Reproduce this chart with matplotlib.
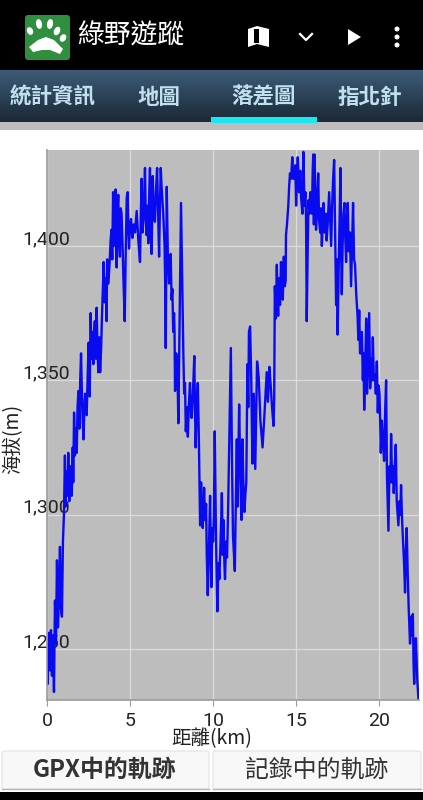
import numpy as np
from matplotlib import pyplot as plt
from matplotlib.colors import LinearSegmentedColormap
from matplotlib.patches import Circle, Ellipse, FancyBboxPatch, Polygon, Rectangle
from matplotlib.transforms import ScaledTranslation

CJK = ['Noto Sans CJK TC', 'DejaVu Sans']
LATIN = 'Roboto'

# distance along the track (km) and elevation (m)
distance = [
    0, .04, .08, .12, .18, .24, .30, .36, .42, .48, .54, .60, .66, .72, .78, .84, .90, .96, 1.02, 1.08,
    1.12, 1.18, 1.24, 1.28, 1.34, 1.40, 1.49, 1.55, 1.58, 1.63, 1.68, 1.74, 1.79, 1.84, 1.89, 1.95, 2.00, 2.05, 2.12, 2.20,
    2.26, 2.30, 2.39, 2.45, 2.51, 2.57, 2.63, 2.68, 2.72, 2.79, 2.84, 2.88, 2.94, 2.99, 3.04, 3.09, 3.15, 3.20, 3.26, 3.31,
    3.37, 3.41, 3.47, 3.53, 3.59, 3.62, 3.70, 3.78, 3.83, 3.88, 3.93, 3.98, 4.02, 4.06, 4.13, 4.16, 4.19, 4.24, 4.29, 4.34,
    4.39, 4.44, 4.49, 4.55, 4.60, 4.68, 4.74, 4.80, 4.86, 4.90, 4.94, 5.00, 5.06, 5.14, 5.22, 5.30, 5.40, 5.50, 5.60, 5.65,
    5.70, 5.75, 5.80, 5.85, 5.90, 5.95, 6.00, 6.05, 6.10, 6.15, 6.20, 6.25, 6.30, 6.37, 6.43, 6.50, 6.56, 6.63, 6.69, 6.75,
    6.80, 6.85, 6.90, 7.00, 7.08, 7.12, 7.15, 7.21, 7.28, 7.35, 7.40, 7.45, 7.50, 7.55, 7.60, 7.65, 7.68, 7.71, 7.78, 7.85,
    7.91, 8.07, 8.21, 8.26, 8.31, 8.36, 8.42, 8.48, 8.55, 8.61, 8.66, 8.71, 8.78, 8.87, 8.91, 8.95, 9.02, 9.08, 9.14, 9.22,
    9.28, 9.33, 9.38, 9.46, 9.52, 9.58, 9.62, 9.68, 9.76, 9.82, 9.86, 9.90, 9.96, 10.00, 10.05, 10.10, 10.18, 10.26, 10.32, 10.38,
    10.44, 10.50, 10.53, 10.58, 10.63, 10.68, 10.72, 10.78, 10.84, 10.90, 10.98, 11.07, 11.14, 11.20, 11.26, 11.31, 11.37, 11.43, 11.47, 11.52,
    11.57, 11.64, 11.71, 11.74, 11.77, 11.83, 11.89, 11.95, 12.00, 12.07, 12.12, 12.16, 12.23, 12.30, 12.37, 12.45, 12.54, 12.60, 12.65, 12.75,
    12.85, 12.98, 13.10, 13.23, 13.30, 13.39, 13.47, 13.55, 13.64, 13.68, 13.72, 13.78, 13.84, 13.88, 13.92, 13.98, 14.03, 14.09, 14.14, 14.20,
    14.26, 14.32, 14.37, 14.39, 14.45, 14.53, 14.58, 14.63, 14.70, 14.77, 14.83, 14.90, 14.95, 15.00, 15.05, 15.10, 15.18, 15.25, 15.30, 15.38,
    15.44, 15.50, 15.56, 15.60, 15.64, 15.70, 15.75, 15.80, 15.85, 15.90, 15.95, 16.00, 16.03, 16.07, 16.11, 16.16, 16.20, 16.27, 16.33, 16.38,
    16.45, 16.50, 16.55, 16.60, 16.65, 16.72, 16.78, 16.84, 16.90, 16.95, 16.99, 17.05, 17.11, 17.17, 17.23, 17.29, 17.35, 17.41, 17.46, 17.50,
    17.56, 17.62, 17.67, 17.72, 17.75, 17.80, 17.85, 17.91, 17.96, 18.01, 18.06, 18.11, 18.17, 18.24, 18.31, 18.37, 18.43, 18.49, 18.55, 18.62,
    18.70, 18.75, 18.80, 18.85, 18.90, 18.96, 19.02, 19.06, 19.10, 19.16, 19.22, 19.28, 19.34, 19.40, 19.46, 19.52, 19.57, 19.62, 19.68, 19.75,
    19.80, 19.86, 19.92, 19.97, 20.02, 20.06, 20.10, 20.16, 20.22, 20.30, 20.36, 20.42, 20.47, 20.56, 20.62, 20.68, 20.72, 20.78, 20.84, 20.88,
    20.94, 21.00, 21.06, 21.16, 21.22, 21.27, 21.32, 21.38, 21.44, 21.50, 21.56, 21.60, 21.66, 21.72, 21.78, 21.86, 21.92, 21.97, 22.03, 22.07,
    22.11, 22.16, 22.21, 22.26, 22.30, 22.37,
]
elevation = [
    1250, 1237, 1252, 1256, 1242, 1257, 1240, 1255, 1234, 1268, 1252, 1283, 1258, 1270, 1288, 1265, 1262, 1290, 1300, 1322,
    1303, 1316, 1307, 1323, 1305, 1318, 1307, 1325, 1312, 1338, 1322, 1332, 1323, 1340, 1346, 1332, 1350, 1360, 1340, 1328,
    1342, 1345, 1337, 1352, 1364, 1344, 1375, 1358, 1368, 1356, 1368, 1372, 1358, 1377, 1362, 1353, 1366, 1353, 1362, 1374,
    1385, 1394, 1379, 1388, 1372, 1395, 1386, 1395, 1402, 1406, 1395, 1420, 1400, 1416, 1421, 1398, 1392, 1412, 1419, 1402,
    1396, 1414, 1412, 1400, 1388, 1372, 1398, 1418, 1420, 1405, 1399, 1408, 1410, 1403, 1408, 1405, 1413, 1402, 1394, 1412,
    1425, 1405, 1409, 1418, 1429, 1410, 1404, 1415, 1401, 1418, 1429, 1407, 1397, 1426, 1412, 1409, 1420, 1429, 1412, 1396,
    1415, 1429, 1422, 1412, 1400, 1385, 1362, 1422, 1395, 1386, 1395, 1397, 1380, 1384, 1368, 1375, 1368, 1346, 1360, 1355,
    1334, 1416, 1360, 1345, 1349, 1331, 1340, 1329, 1342, 1349, 1340, 1336, 1344, 1359, 1340, 1325, 1340, 1349, 1330, 1296,
    1312, 1298, 1295, 1310, 1298, 1304, 1285, 1270, 1290, 1307, 1285, 1273, 1295, 1290, 1300, 1331, 1290, 1264, 1282, 1276,
    1288, 1300, 1308, 1285, 1298, 1282, 1276, 1290, 1284, 1300, 1330, 1362, 1320, 1292, 1285, 1279, 1305, 1328, 1303, 1320,
    1341, 1315, 1298, 1312, 1328, 1310, 1301, 1308, 1312, 1356, 1340, 1368, 1370, 1350, 1319, 1345, 1317, 1340, 1357, 1351,
    1335, 1325, 1338, 1353, 1342, 1355, 1348, 1340, 1333, 1343, 1385, 1373, 1393, 1380, 1374, 1388, 1378, 1394, 1383, 1380,
    1396, 1385, 1387, 1404, 1408, 1415, 1422, 1427, 1425, 1433, 1425, 1425, 1430, 1415, 1425, 1433, 1420, 1428, 1418, 1412,
    1435, 1415, 1420, 1410, 1372, 1400, 1417, 1412, 1420, 1415, 1412, 1428, 1434, 1408, 1434, 1420, 1406, 1415, 1427, 1410,
    1405, 1414, 1400, 1408, 1416, 1405, 1412, 1402, 1408, 1415, 1420, 1410, 1400, 1415, 1425, 1432, 1405, 1378, 1395, 1367,
    1390, 1410, 1429, 1395, 1382, 1400, 1412, 1416, 1403, 1394, 1410, 1416, 1398, 1405, 1385, 1400, 1416, 1395, 1393, 1382,
    1374, 1365, 1376, 1360, 1360, 1368, 1350, 1360, 1339, 1355, 1373, 1345, 1360, 1375, 1347, 1358, 1350, 1366, 1350, 1352,
    1345, 1357, 1338, 1348, 1345, 1335, 1323, 1335, 1328, 1320, 1338, 1350, 1315, 1294, 1318, 1312, 1330, 1312, 1318, 1308,
    1318, 1326, 1305, 1296, 1305, 1300, 1311, 1298, 1290, 1282, 1271, 1285, 1295, 1278, 1265, 1252, 1262, 1255, 1263, 1245,
    1237, 1248, 1254, 1245, 1238, 1231,
]
x_ticks = [0, 5, 10, 15, 20]
y_ticks = [1250, 1300, 1350, 1400]
y_tick_labels = ['1,250', '1,300', '1,350', '1,400']
tab_names = ['統計資訊', '地圖', '落差圖', '指北針']
tab_centers = [53, 159, 264, 370]

fig = plt.figure(figsize=(4.23, 8), dpi=100, facecolor='white')

# ===========================================================================
# APP SCREEN AROUND THE CHART, in pixel coordinates
# ===========================================================================
ui = fig.add_axes([0, 0, 1, 1], zorder=0)
ui.axis('off')

ui.add_patch(Rectangle((0, 0), 423, 70, color='black', lw=0))
gradient = np.linspace(0, 1, 50).reshape(-1, 1)
tab_cmap = LinearSegmentedColormap.from_list('tabs', ['#3d5c78', '#1a2836'])
ui.imshow(gradient, extent=(0, 423, 122, 70), cmap=tab_cmap, aspect='auto', zorder=1)
ui.set_xlim(0, 423)
ui.set_ylim(800, 0)
ui.add_patch(Rectangle((0, 122), 423, 8, color='#bdbdbd', lw=0))
ui.add_patch(Rectangle((211, 117), 106, 6, color='#19e6ee', lw=0, zorder=2))

# paw icon
ui.add_patch(FancyBboxPatch((27, 17), 41, 41, boxstyle='round,pad=2,rounding_size=3', color='#2f8f3f', lw=0, zorder=2))
ui.add_patch(Polygon([(29, 47), (38, 40), (46, 37), (54, 40), (63, 49), (60, 54), (50, 50), (42, 50), (33, 52)],
                     color='white', lw=0, zorder=3))
for cx, cy, w, h, a in [(30, 31, 6, 8, 25), (39, 24, 6, 10, 10), (50, 24, 6, 10, -10), (57, 31, 6, 9, -25), (63, 38, 6, 8, -30)]:
    ui.add_patch(Ellipse((cx, cy), w, h, angle=-a, color='white', lw=0, zorder=3))
ui.text(130.5, 36, '綠野遊蹤', color='white', fontsize=19.3, family=CJK, ha='center', va='center', zorder=3)

# toolbar icons
ui.add_patch(Polygon([(248, 29), (257, 26), (269, 29), (269, 47), (257, 44), (248, 47)], color='white', lw=0, zorder=3))
ui.add_patch(Rectangle((254, 29), 5, 14, color='black', lw=0, zorder=4))
ui.plot([300, 306, 312], [34, 40, 34], color='white', lw=1.6, zorder=3)
ui.add_patch(Polygon([(348, 29), (348, 45), (361, 37)], color='white', lw=0, zorder=3))
for cy in [29, 37, 45]:
    ui.add_patch(Circle((397, cy), 2.5, color='white', lw=0, zorder=3))

for name, cx in zip(tab_names, tab_centers):
    ui.text(cx, 97, name, color='#bfe0ee', fontsize=15.5, fontweight='bold', family=CJK,
            ha='center', va='center', zorder=3)

# buttons at the bottom
ui.add_patch(Rectangle((0, 792), 423, 8, color='black', lw=0))
for bx, bw in [(2, 207), (213, 208)]:
    ui.add_patch(FancyBboxPatch((bx, 751), bw, 38, boxstyle='round,pad=0,rounding_size=2',
                                facecolor='#f8f8f8', edgecolor='#e2e2e2', lw=0.8, zorder=2))
    ui.plot([bx, bx + bw], [789, 789], color='#b5b5b5', lw=1, zorder=3)
ui.text(105, 770, 'GPX中的軌跡', color='#333333', fontsize=17.2, fontweight='bold', family=CJK,
        ha='center', va='center', zorder=3)
ui.text(317, 770, '記錄中的軌跡', color='#333333', fontsize=17.2, family=CJK, ha='center', va='center', zorder=3)

# ===========================================================================
# THE ELEVATION PROFILE
# ===========================================================================
ax = fig.add_axes([47 / 423, 1 - 700 / 800, 372 / 423, 550 / 800], zorder=1)
ax.set_facecolor('#bdbdbd')
ax.plot(distance, elevation, color='#0a0af0', lw=1.7)
ax.set_xlim(0, 22.4)
ax.set_ylim(1231, 1435.7)
ax.grid(color='#dcdcdc', lw=0.9)
ax.set_axisbelow(True)
for side in ['top', 'right']:
    ax.spines[side].set_visible(False)
for side in ['left', 'bottom']:
    ax.spines[side].set_color('#9a9a9a')
    ax.spines[side].set_linewidth(1.2)

ax.set_xticks(x_ticks)
ax.set_yticks(y_ticks)
ax.set_yticklabels(y_tick_labels)
ax.tick_params(axis='x', length=4, color='#9a9a9a', pad=4.5, labelsize=14, labelcolor='#222222')
ax.tick_params(axis='y', length=0, pad=-16.5, labelsize=14, labelcolor='#222222')
for label in ax.get_xticklabels():
    label.set_family(LATIN)
shift = ScaledTranslation(0, -2 / 100, fig.dpi_scale_trans)
for label in ax.get_yticklabels():
    label.set_family(LATIN)
    label.set_va('bottom')
    label.set_transform(label.get_transform() + shift)

ui.text(212, 739, '距離(km)', color='#222222', fontsize=14, family=CJK, ha='center', va='center', zorder=3)
ui.text(13, 439, '海拔(m)', color='#222222', fontsize=14, family=CJK, rotation=90,
        ha='center', va='center', zorder=3)

fig.savefig('out.png', dpi=100)
